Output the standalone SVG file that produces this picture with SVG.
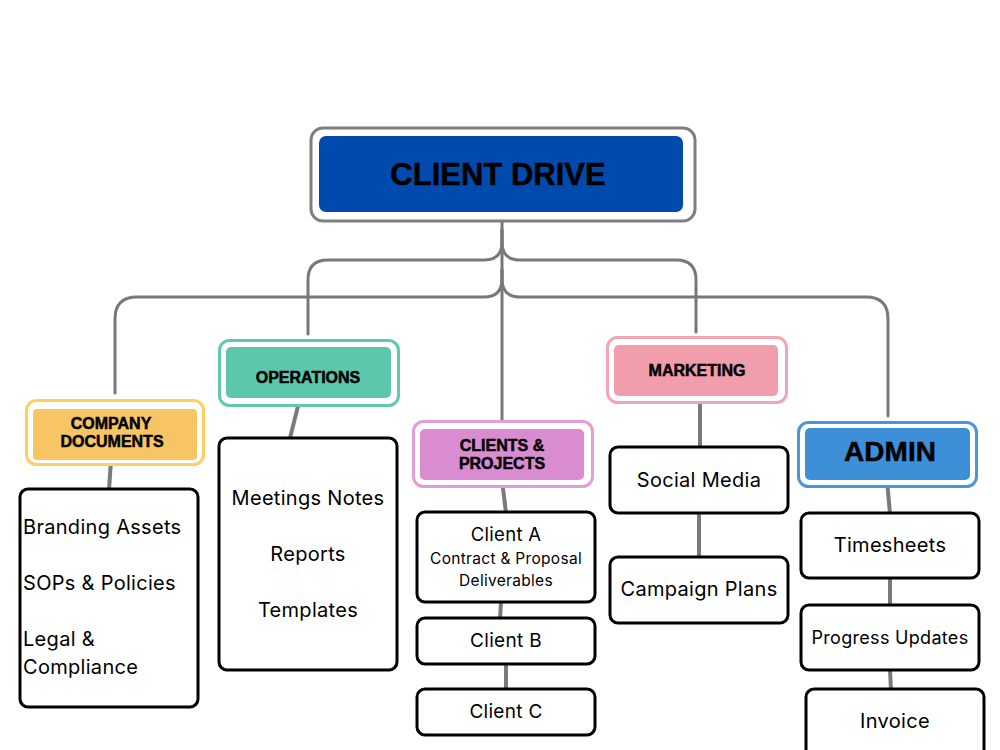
<svg xmlns="http://www.w3.org/2000/svg" width="1000" height="750" viewBox="0 0 1000 750">
<style>
.conn{fill:none;stroke:#787878;stroke-width:3;stroke-linecap:round;stroke-linejoin:round}
.link{fill:none;stroke:#7a7a7a;stroke-width:4}
.frame{fill:#fff;stroke-width:3}
.box{fill:#fff;stroke:#000;stroke-width:3}
.hd{font-family:"Liberation Sans",Arial,sans-serif;font-weight:bold;fill:#000;stroke:#000;stroke-width:0.5;text-anchor:middle}
.tx{font-family:Inter,"Noto Sans",sans-serif;fill:#000;text-anchor:middle;letter-spacing:0.3px}
.tl{font-family:Inter,"Noto Sans",sans-serif;fill:#000;text-anchor:start;letter-spacing:0.3px}
</style>
<rect width="1000" height="750" fill="#fff"/>
<g id="connectors">
<path class="conn" d="M502,221 V420"/>
<path class="conn" d="M502,230 V242 Q502,260 484,260 H328 Q308,260 308,280 V334"/>
<path class="conn" d="M502,230 V242 Q502,260 520,260 H676 Q696,260 696,280 V332"/>
<path class="conn" d="M502,270 V279 Q502,297 484,297 H137 Q115,297 115,319 V393"/>
<path class="conn" d="M502,270 V279 Q502,297 520,297 H866 Q888,297 888,319 V416"/>
<path class="link" d="M111,460 L109,490"/>
<path class="link" d="M300,398 L290,438"/>
<path class="link" d="M502,480 L506,513"/>
<path class="link" d="M501,602 L500,619"/>
<path class="link" d="M506,664 L506,690"/>
<path class="link" d="M700,396 L700,448"/>
<path class="link" d="M699,513 L699,558"/>
<path class="link" d="M887,480 L890,514"/>
<path class="link" d="M890,578 L890,606"/>
<path class="link" d="M890,670 L891,690"/>
</g>
<g id="client-drive">
<rect class="frame" x="311" y="128" width="384" height="93" rx="12" stroke="#7f7f7f"/>
<rect x="319" y="136" width="364" height="76" rx="7" fill="#004aad"/>
<text class="hd" x="498" y="185" font-size="31">CLIENT DRIVE</text>
</g>
<g id="company-documents">
<rect class="frame" x="26.5" y="400.5" width="177" height="64" rx="10" stroke="#fdd160"/>
<rect x="33" y="409" width="164" height="51" rx="4" fill="#f7c563"/>
<text class="hd" x="111" y="429" font-size="16">COMPANY</text>
<text class="hd" x="112" y="447" font-size="16">DOCUMENTS</text>
</g>
<g id="operations">
<rect class="frame" x="219.5" y="340.5" width="179" height="65" rx="10" stroke="#62c8ae"/>
<rect x="226" y="347" width="165" height="51" rx="5" fill="#5dc7ad"/>
<text class="hd" x="308" y="383" font-size="16">OPERATIONS</text>
</g>
<g id="clients-projects">
<rect class="frame" x="413.5" y="421.5" width="179" height="65" rx="10" stroke="#e29ddd"/>
<rect x="420" y="429" width="164" height="51" rx="5" fill="#da8cd0"/>
<text class="hd" x="502" y="451" font-size="16">CLIENTS &amp;</text>
<text class="hd" x="502" y="469" font-size="16">PROJECTS</text>
</g>
<g id="marketing">
<rect class="frame" x="607.5" y="337.5" width="179" height="65" rx="10" stroke="#f4a5b3"/>
<rect x="614" y="345" width="164" height="51" rx="5" fill="#f29dab"/>
<text class="hd" x="697" y="376" font-size="16">MARKETING</text>
</g>
<g id="admin">
<rect class="frame" x="798.5" y="422.5" width="178" height="64" rx="10" stroke="#4a95dc"/>
<rect x="805" y="428" width="165" height="52" rx="5" fill="#3d8fd8"/>
<text class="hd" x="890" y="461" font-size="28">ADMIN</text>
</g>
<g id="company-list">
<rect class="box" x="20" y="489" width="178" height="218" rx="8"/>
<text class="tl" x="23" y="534" font-size="20">Branding Assets</text>
<text class="tl" x="23" y="590" font-size="20">SOPs &amp; Policies</text>
<text class="tl" x="23" y="646" font-size="20">Legal &amp;</text>
<text class="tl" x="23" y="674" font-size="20">Compliance</text>
</g>
<g id="operations-list">
<rect class="box" x="219" y="438" width="178" height="232" rx="8"/>
<text class="tx" x="308" y="505" font-size="20">Meetings Notes</text>
<text class="tx" x="308" y="561" font-size="20">Reports</text>
<text class="tx" x="308" y="617" font-size="20">Templates</text>
</g>
<g id="client-a">
<rect class="box" x="417" y="512" width="178" height="90" rx="8"/>
<text class="tx" x="506" y="541" font-size="18.5">Client A</text>
<text class="tx" x="506" y="564" font-size="15.5">Contract &amp; Proposal</text>
<text class="tx" x="506" y="586" font-size="15.5">Deliverables</text>
</g>
<g id="client-b">
<rect class="box" x="417" y="618" width="178" height="46" rx="8"/>
<text class="tx" x="506" y="647" font-size="19">Client B</text>
</g>
<g id="client-c">
<rect class="box" x="417" y="689" width="178" height="46" rx="8"/>
<text class="tx" x="506" y="718" font-size="19">Client C</text>
</g>
<g id="social-media">
<rect class="box" x="610" y="447" width="178" height="66" rx="8"/>
<text class="tx" x="699" y="487" font-size="20">Social Media</text>
</g>
<g id="campaign-plans">
<rect class="box" x="610" y="557" width="178" height="66" rx="8"/>
<text class="tx" x="699" y="596" font-size="20">Campaign Plans</text>
</g>
<g id="timesheets">
<rect class="box" x="801" y="513" width="178" height="65" rx="8"/>
<text class="tx" x="890" y="552" font-size="20">Timesheets</text>
</g>
<g id="progress-updates">
<rect class="box" x="801" y="605" width="178" height="65" rx="8"/>
<text class="tx" x="890" y="644" font-size="18">Progress Updates</text>
</g>
<g id="invoice">
<rect class="box" x="806" y="689" width="178" height="70" rx="8"/>
<text class="tx" x="895" y="728" font-size="20">Invoice</text>
</g>
</svg>
